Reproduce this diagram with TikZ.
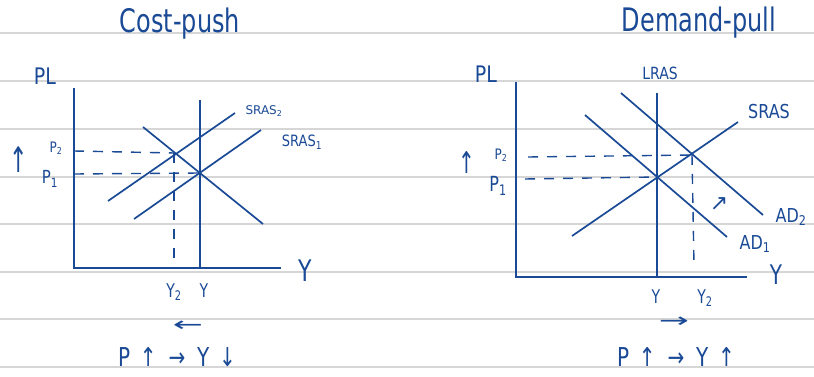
\documentclass[tikz,border=0pt]{standalone}
\usepackage{fontspec}
\usepackage{graphicx}
\setmainfont{DejaVu Sans}
\definecolor{ink}{HTML}{1A4A96}
\definecolor{rule}{HTML}{D6D6D6}
\newcommand{\tallt}[2][1.35]{\scalebox{1}[#1]{#2}}
\newcommand{\widet}[2][1.8]{\scalebox{#1}[1]{#2}}
\tikzset{
  ruleline/.style={draw=rule,line width=1.6pt},
  curve/.style={draw=ink,line width=1.7pt},
  guide/.style={draw=ink,line width=1.4pt,dash pattern=on 10pt off 9pt},
  lbl/.style={text=ink,inner sep=0pt,font=#1},
  lbl/.default={\fontsize{14}{14}\selectfont}
}
\begin{document}
\begin{tikzpicture}[x=1pt,y=-1pt]
\useasboundingbox (0,0) rectangle (814,377);
\fill[white] (0,0) rectangle (814,377);
% ruled paper
\foreach \yy [count=\i] in {33,81,129,177,224,272,319,367}{
  \coordinate (rl\i) at (0,\yy); \coordinate (rr\i) at (814,\yy);
  \draw[ruleline] (rl\i) -- (rr\i);
}
% ================= LEFT: Cost-push =================
\node[lbl={\fontsize{24}{24}\selectfont}] (ltitle) at (180,24) {\tallt{Cost-push}};
\node[lbl={\fontsize{19}{19}\selectfont}] (lpl) at (45,76) {\tallt[1.2]{PL}};
\coordinate (LO) at (74,268);
\coordinate (LYtop) at (74,88);
\coordinate (LXend) at (281,268);
\draw[curve] (LYtop) -- (LO) -- (LXend);
\node[lbl={\fontsize{22}{22}\selectfont}] (lyax) at (305,271) {\tallt{Y}};
% LRAS
\coordinate (LL1) at (200,100); \coordinate (LL2) at (200,268);
\draw[curve] (LL1) -- (LL2);
% AD
\coordinate (LA1) at (143,127); \coordinate (LA2) at (263,224);
\draw[curve] (LA1) -- (LA2);
% SRAS1
\coordinate (LS11) at (134,219); \coordinate (LS12) at (261,130);
\draw[curve] (LS11) -- (LS12);
% SRAS2
\coordinate (LS21) at (108,201); \coordinate (LS22) at (235,113);
\draw[curve] (LS21) -- (LS22);
\node[lbl={\fontsize{12}{12}\selectfont}] (lsras2) at (264,111) {SRAS\textsubscript{2}};
\node[lbl={\fontsize{13}{13}\selectfont}] (lsras1) at (302,142) {\tallt[1.2]{SRAS\textsubscript{1}}};
% equilibria
\coordinate (LE1) at (200,173);
\coordinate (LE2) at (174,153);
\coordinate (LP1) at (74,174);
\coordinate (LP2) at (74,151);
\coordinate (LY2b) at (174,268);
\draw[guide] (LP2) -- (LE2);
\draw[guide] (LP1) -- (LE1);
\draw[guide] (LE2) -- (LY2b);
\node[lbl={\fontsize{12}{12}\selectfont}] (lp2) at (56,148) {\tallt[1.2]{P\textsubscript{2}}};
\node[lbl={\fontsize{15}{15}\selectfont}] (lp1) at (50,179) {\tallt[1.2]{P\textsubscript{1}}};
\node[lbl={\fontsize{22}{22}\selectfont}] (lup) at (19,160) {\tallt[1.6]{↑}};
\node[lbl={\fontsize{14}{14}\selectfont}] (ly2) at (174,292) {\tallt{Y\textsubscript{2}}};
\node[lbl={\fontsize{14}{14}\selectfont}] (ly1) at (204,291) {\tallt{Y}};
\node[lbl={\fontsize{20}{20}\selectfont}] (lleft) at (188,326) {\widet{←}};
\node[lbl={\fontsize{20}{20}\selectfont}] (lsum) at (177,357) {\tallt[1.3]{P \,↑ \;→\; Y \,↓}};
% ================= RIGHT: Demand-pull =================
\node[lbl={\fontsize{24}{24}\selectfont}] (rtitle) at (699,23) {\tallt{Demand-pull}};
\node[lbl={\fontsize{19}{19}\selectfont}] (rpl) at (486,74) {\tallt[1.2]{PL}};
\node[lbl={\fontsize{14}{14}\selectfont}] (rlrasl) at (660,73) {\tallt[1.2]{LRAS}};
\coordinate (RO) at (516,277);
\coordinate (RYtop) at (516,82);
\coordinate (RXend) at (747,277);
\draw[curve] (RYtop) -- (RO) -- (RXend);
\node[lbl={\fontsize{20}{20}\selectfont}] (ryax) at (776,275) {\tallt{Y}};
% LRAS
\coordinate (RL1) at (657,93); \coordinate (RL2) at (657,277);
\draw[curve] (RL1) -- (RL2);
% SRAS
\coordinate (RS1) at (572,236); \coordinate (RS2) at (738,122);
\draw[curve] (RS1) -- (RS2);
\node[lbl={\fontsize{16}{16}\selectfont}] (rsras) at (769,112) {\tallt[1.2]{SRAS}};
% AD1, AD2
\coordinate (RA11) at (585,115); \coordinate (RA12) at (727,237);
\draw[curve] (RA11) -- (RA12);
\coordinate (RA21) at (621,93); \coordinate (RA22) at (763,215);
\draw[curve] (RA21) -- (RA22);
\node[lbl={\fontsize{16}{16}\selectfont}] (rad2) at (791,217) {\tallt[1.2]{AD\textsubscript{2}}};
\node[lbl={\fontsize{16}{16}\selectfont}] (rad1) at (755,244) {\tallt[1.2]{AD\textsubscript{1}}};
\node[lbl={\fontsize{22}{22}\selectfont}] (rshift) at (719,204) {↗};
% equilibria
\coordinate (RE1) at (657,177);
\coordinate (RE2) at (692,155);
\coordinate (RP2) at (528,157);
\coordinate (RP1) at (525,179);
\coordinate (RY2b) at (694,265);
\draw[guide] (RP2) -- (RE2);
\draw[guide] (RP1) -- (RE1);
\draw[guide] (RE2) -- (RY2b);
\node[lbl={\fontsize{12}{12}\selectfont}] (rp2) at (501,155) {\tallt[1.2]{P\textsubscript{2}}};
\node[lbl={\fontsize{16}{16}\selectfont}] (rp1) at (498,186) {\tallt[1.3]{P\textsubscript{1}}};
\node[lbl={\fontsize{20}{20}\selectfont}] (rup) at (467,163) {\tallt[1.5]{↑}};
\node[lbl={\fontsize{14}{14}\selectfont}] (ry1) at (656,297) {\tallt{Y}};
\node[lbl={\fontsize{14}{14}\selectfont}] (ry2) at (705,298) {\tallt{Y\textsubscript{2}}};
\node[lbl={\fontsize{20}{20}\selectfont}] (rright) at (674,322) {\widet{→}};
\node[lbl={\fontsize{20}{20}\selectfont}] (rsum) at (676,357) {\tallt[1.3]{P \,↑ \;→\; Y \,↑}};
\end{tikzpicture}
\end{document}
